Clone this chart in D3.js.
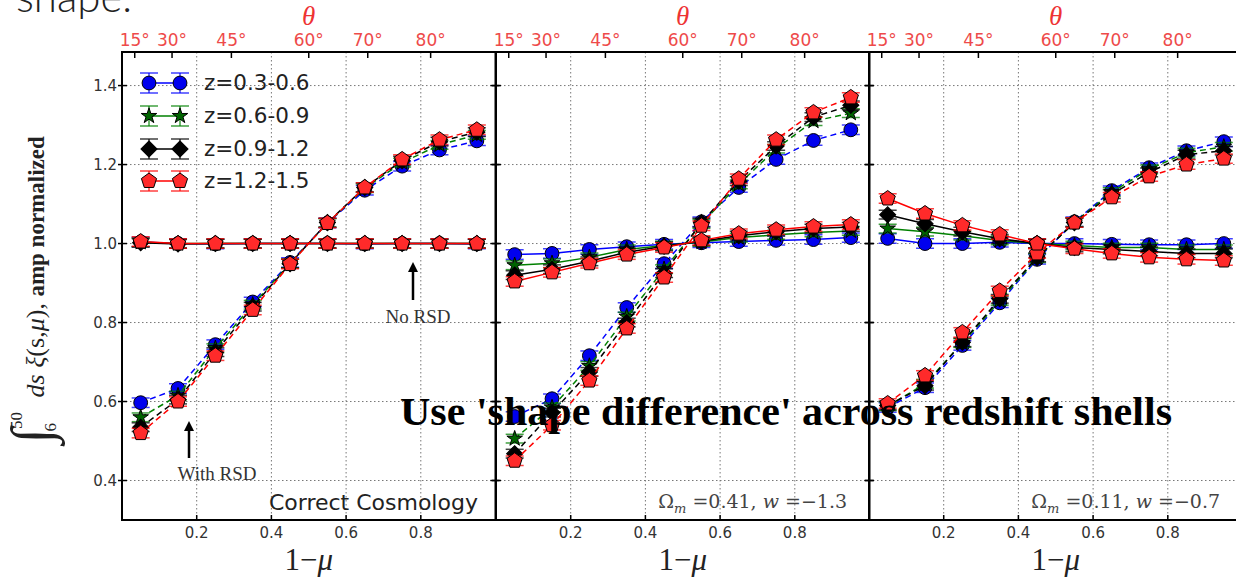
<!DOCTYPE html>
<html>
<head>
<meta charset="utf-8">
<script src="https://cdn.jsdelivr.net/npm/d3@7"></script>
<style>
body { margin: 0; background: #fff; }
svg { display: block; }
</style>
</head>
<body>
<div id="chart-area"></div>
<script>
// bin centres in 1 - mu
const muBins = [0.05, 0.15, 0.25, 0.35, 0.45, 0.55, 0.65, 0.75, 0.85, 0.95];
const zShells = ["z=0.3-0.6", "z=0.6-0.9", "z=0.9-1.2", "z=1.2-1.5"];
const shellErr = [0.012, 0.011, 0.011, 0.012];

const xTicks = [0.2, 0.4, 0.6, 0.8];
const yTicks = [0.4, 0.6, 0.8, 1.0, 1.2, 1.4];
const thetaTicks = [15, 30, 45, 60, 70, 80];

// panel captions
const omegaM = [null, "0.41", "0.11"];
const wValue = [null, "\u22121.3", "\u22120.7"];

// each array: one row per redshift shell (blue, green, black, red)
const correctNoRSD = [
  [1.004, 1.000, 0.999, 1.000, 1.000, 1.000, 0.999, 1.000, 1.000, 0.999],
  [1.003, 1.000, 1.000, 1.000, 1.000, 1.000, 1.000, 1.000, 1.000, 1.000],
  [1.002, 0.999, 1.000, 1.000, 1.000, 1.000, 1.000, 1.000, 1.000, 1.000],
  [1.005, 1.000, 1.000, 1.000, 1.000, 1.000, 1.000, 1.000, 1.000, 1.000]
];
const correctRSD = [
  [0.597, 0.633, 0.744, 0.852, 0.952, 1.052, 1.135, 1.196, 1.237, 1.260],
  [0.560, 0.615, 0.735, 0.845, 0.950, 1.052, 1.140, 1.205, 1.250, 1.275],
  [0.535, 0.605, 0.725, 0.840, 0.949, 1.053, 1.142, 1.210, 1.258, 1.282],
  [0.520, 0.600, 0.716, 0.832, 0.948, 1.052, 1.142, 1.213, 1.263, 1.288]
];
const om041NoRSD = [
  [0.972, 0.975, 0.985, 0.992, 0.998, 1.002, 1.005, 1.008, 1.010, 1.015],
  [0.945, 0.950, 0.965, 0.985, 0.995, 1.004, 1.015, 1.022, 1.028, 1.032],
  [0.920, 0.935, 0.955, 0.978, 0.993, 1.006, 1.020, 1.030, 1.038, 1.042],
  [0.904, 0.927, 0.950, 0.972, 0.990, 1.008, 1.025, 1.035, 1.043, 1.048]
];
const om041RSD = [
  [0.562, 0.607, 0.716, 0.838, 0.949, 1.055, 1.142, 1.213, 1.261, 1.288],
  [0.506, 0.585, 0.690, 0.815, 0.935, 1.050, 1.150, 1.240, 1.310, 1.330],
  [0.468, 0.572, 0.675, 0.800, 0.925, 1.053, 1.158, 1.247, 1.320, 1.350],
  [0.450, 0.540, 0.653, 0.785, 0.914, 1.045, 1.164, 1.263, 1.332, 1.370]
];
const om011NoRSD = [
  [1.013, 1.000, 1.000, 1.003, 1.000, 1.000, 0.998, 0.997, 0.997, 1.000],
  [1.038, 1.030, 1.020, 1.008, 1.000, 0.995, 0.990, 0.990, 0.985, 0.985],
  [1.073, 1.050, 1.030, 1.012, 1.000, 0.990, 0.985, 0.980, 0.975, 0.975],
  [1.114, 1.076, 1.046, 1.023, 1.000, 0.987, 0.975, 0.965, 0.960, 0.957]
];
const om011RSD = [
  [0.585, 0.635, 0.742, 0.850, 0.960, 1.055, 1.134, 1.192, 1.235, 1.258],
  [0.588, 0.645, 0.748, 0.855, 0.963, 1.054, 1.130, 1.188, 1.230, 1.245],
  [0.590, 0.640, 0.750, 0.860, 0.965, 1.053, 1.125, 1.180, 1.225, 1.235],
  [0.595, 0.666, 0.775, 0.880, 0.975, 1.053, 1.117, 1.170, 1.200, 1.215]
];

const panels = [
  { noRSD: correctNoRSD, rsd: correctRSD },
  { noRSD: om041NoRSD, rsd: om041RSD },
  { noRSD: om011NoRSD, rsd: om011RSD }
];

const lineColors = ["#0000ff", "#008000", "#000000", "#ff0000"];
const fillColors = ["#0000ee", "#006400", "#000000", "#ff2a2a"];

const W = 1236, H = 579;
const panelLeft = [122, 496, 869];
const panelW = 373.5;
const plotTop = 52, plotBottom = 520;

let svg = d3.select("#chart-area").append("svg")
  .attr("width", W)
  .attr("height", H)
  .style("font-family", "'DejaVu Sans', sans-serif");

let y = d3.scaleLinear().domain([0.3, 1.485]).range([plotBottom, plotTop]);

// marker shapes
function pentagon(r) {
  let pts = d3.range(5).map(k => {
    let a = -Math.PI / 2 + k * 2 * Math.PI / 5;
    return [r * Math.cos(a), r * Math.sin(a)];
  });
  return "M" + pts.map(p => p.join(",")).join("L") + "Z";
}
const markerPaths = [
  d3.symbol(d3.symbolCircle, 150)(),
  d3.symbol(d3.symbolStar, 75)(),
  d3.symbol(d3.symbolSquare, 130)(),
  pentagon(8)
];
const markerRot = [0, 0, 45, 0];

function drawMarker(g, cx, cy, i) {
  g.append("path")
    .attr("d", markerPaths[i])
    .attr("transform", "translate(" + cx + "," + cy + ") rotate(" + markerRot[i] + ")")
    .attr("fill", fillColors[i])
    .attr("stroke", "#000")
    .attr("stroke-width", 1);
}

function drawErr(g, cx, y1, y2, i, capW) {
  let c = g.append("g")
    .attr("stroke", lineColors[i])
    .attr("stroke-opacity", 0.75)
    .attr("stroke-width", 1.5);
  c.append("line").attr("x1", cx).attr("x2", cx).attr("y1", y1).attr("y2", y2);
  c.append("line").attr("x1", cx - capW).attr("x2", cx + capW).attr("y1", y1).attr("y2", y1);
  c.append("line").attr("x1", cx - capW).attr("x2", cx + capW).attr("y1", y2).attr("y2", y2);
}

// clip for the last panel which runs off the page
svg.append("defs").selectAll("clipPath")
  .data(panels)
  .enter().append("clipPath")
  .attr("id", (d, p) => "clip" + p)
  .append("rect")
  .attr("x", (d, p) => panelLeft[p] - 12)
  .attr("y", plotTop)
  .attr("width", panelW + 24)
  .attr("height", plotBottom - plotTop);

panels.forEach(function(panel, p) {
  let x = d3.scaleLinear().domain([0, 1]).range([panelLeft[p], panelLeft[p] + panelW]);
  let g = svg.append("g");

  // grid
  let grid = g.append("g")
    .attr("stroke", "#777")
    .attr("stroke-width", 1)
    .attr("stroke-dasharray", "1.5,2.5");
  xTicks.forEach(t => {
    grid.append("line").attr("x1", x(t)).attr("x2", x(t)).attr("y1", plotTop).attr("y2", plotBottom);
  });
  yTicks.forEach(t => {
    grid.append("line").attr("x1", x(0)).attr("x2", x(1)).attr("y1", y(t)).attr("y2", y(t));
  });

  // data
  let dg = g.append("g").attr("clip-path", "url(#clip" + p + ")");
  let line = d3.line().x((d, k) => x(muBins[k])).y(d => y(d));
  [0, 1, 2, 3].forEach(function(i) {
    [panel.rsd[i], panel.noRSD[i]].forEach(function(vals, s) {
      dg.append("path")
        .attr("d", line(vals))
        .attr("fill", "none")
        .attr("stroke", lineColors[i])
        .attr("stroke-width", 1.5)
        .attr("stroke-dasharray", s === 0 ? "6,4" : null);
      vals.forEach(function(v, k) {
        drawErr(dg, x(muBins[k]), y(v + shellErr[i]), y(v - shellErr[i]), i, 9);
      });
      vals.forEach(function(v, k) {
        drawMarker(dg, x(muBins[k]), y(v), i);
      });
    });
  });

  // frame
  g.append("rect")
    .attr("x", x(0)).attr("y", plotTop)
    .attr("width", panelW).attr("height", plotBottom - plotTop)
    .attr("fill", "none").attr("stroke", "#000").attr("stroke-width", 2);

  // ticks (inward)
  let tk = g.append("g").attr("stroke", "#000").attr("stroke-width", 1.5);
  yTicks.forEach(t => {
    tk.append("line").attr("x1", x(0) - 4).attr("x2", x(0) + 5).attr("y1", y(t)).attr("y2", y(t));
    tk.append("line").attr("x1", x(1) - 5).attr("x2", x(1) + 4).attr("y1", y(t)).attr("y2", y(t));
  });
  xTicks.forEach(t => {
    tk.append("line").attr("x1", x(t)).attr("x2", x(t)).attr("y1", plotBottom).attr("y2", plotBottom - 5);
  });
  thetaTicks.forEach(t => {
    let u = 1 - Math.cos(t * Math.PI / 180);
    tk.append("line").attr("x1", x(u)).attr("x2", x(u)).attr("y1", plotTop).attr("y2", plotTop + 6);
  });

  // bottom tick labels
  g.selectAll(".xlab")
    .data(xTicks)
    .enter().append("text")
    .attr("x", d => x(d))
    .attr("y", 538)
    .attr("text-anchor", "middle")
    .attr("fill", "#333")
    .style("font-size", "15px")
    .text(d => d3.format(".1f")(d));

  // top theta labels
  g.selectAll(".tlab")
    .data(thetaTicks)
    .enter().append("text")
    .attr("x", d => x(1 - Math.cos(d * Math.PI / 180)))
    .attr("y", 46)
    .attr("text-anchor", "middle")
    .attr("fill", "#ee4a4a")
    .style("font-size", "17px")
    .text(d => d + "\u00b0");

  g.append("text")
    .attr("x", x(0.5))
    .attr("y", 25)
    .attr("text-anchor", "middle")
    .attr("fill", "#ee3333")
    .style("font-family", "'Liberation Serif', serif")
    .style("font-style", "italic")
    .style("font-size", "27px")
    .text("\u03b8");

  // x label
  let xl = g.append("text")
    .attr("x", x(0.5))
    .attr("y", 570)
    .attr("text-anchor", "middle")
    .attr("fill", "#222")
    .style("font-family", "'Liberation Serif', serif")
    .style("font-size", "31px");
  xl.append("tspan").text("1\u2212");
  xl.append("tspan").style("font-style", "italic").text("\u03bc");

  // caption
  if (omegaM[p]) {
    let cap = g.append("text")
      .attr("x", x(0.94))
      .attr("y", 508)
      .attr("text-anchor", "end")
      .attr("fill", "#444")
      .style("font-family", "'DejaVu Serif', serif")
      .style("font-size", "19px");
    cap.append("tspan").text("\u03a9");
    cap.append("tspan").attr("dy", 5).style("font-size", "13px").style("font-style", "italic").text("m");
    cap.append("tspan").attr("dy", -5).text(" =" + omegaM[p] + ", ");
    cap.append("tspan").style("font-style", "italic").text("w");
    cap.append("tspan").text(" =" + wValue[p]);
  } else {
    g.append("text")
      .attr("x", x(0.953))
      .attr("y", 510)
      .attr("text-anchor", "end")
      .attr("fill", "#222")
      .style("font-size", "22px")
      .text("Correct Cosmology");
  }
});

// y tick labels (first panel only)
let y0 = panelLeft[0];
svg.selectAll(".ylab")
  .data(yTicks)
  .enter().append("text")
  .attr("x", y0 - 5)
  .attr("y", d => y(d) + 5)
  .attr("text-anchor", "end")
  .attr("fill", "#333")
  .style("font-size", "15px")
  .text(d => d3.format(".1f")(d));

// legend
let lg = svg.append("g");
const legendY = [83, 116, 149, 181];
zShells.forEach(function(name, i) {
  let ly = legendY[i];
  lg.append("line")
    .attr("x1", 149).attr("x2", 180).attr("y1", ly).attr("y2", ly)
    .attr("stroke", lineColors[i]).attr("stroke-width", 1.5);
  [149, 180].forEach(cx => drawErr(lg, cx, ly - 10, ly + 10, i, 9));
  [149, 180].forEach(cx => drawMarker(lg, cx, ly, i));
  lg.append("text")
    .attr("x", 204).attr("y", ly + 7)
    .attr("fill", "#222")
    .style("font-size", "21.5px")
    .text(name);
});

// annotations
function arrow(xp, y1, y2) {
  svg.append("line")
    .attr("x1", xp).attr("x2", xp).attr("y1", y1).attr("y2", y2 + 8)
    .attr("stroke", "#000").attr("stroke-width", 2.5);
  svg.append("path")
    .attr("d", "M" + (xp - 5) + "," + (y2 + 10) + "L" + xp + "," + y2 + "L" + (xp + 5) + "," + (y2 + 10) + "Z")
    .attr("fill", "#000");
}
arrow(413, 300, 262);
arrow(189, 458, 421);
svg.append("text")
  .attr("x", 418).attr("y", 323)
  .attr("text-anchor", "middle")
  .attr("fill", "#333")
  .style("font-family", "'Liberation Serif', serif")
  .style("font-size", "19px")
  .text("No RSD");
svg.append("text")
  .attr("x", 217).attr("y", 480)
  .attr("text-anchor", "middle")
  .attr("fill", "#333")
  .style("font-family", "'Liberation Serif', serif")
  .style("font-size", "19px")
  .text("With RSD");

// y label, centred on the axis
let yl = svg.append("text")
  .attr("transform", "translate(44,290) rotate(-90)")
  .attr("text-anchor", "middle")
  .attr("fill", "#222")
  .style("font-family", "'Liberation Serif', serif")
  .style("font-size", "23px");
yl.append("tspan").style("font-size", "56px").attr("dy", 6).text("\u222b");
yl.append("tspan").attr("dy", 6).attr("dx", -3).style("font-size", "17px").text("6");
yl.append("tspan").attr("dy", -34).attr("dx", -6).style("font-size", "17px").text("50");
yl.append("tspan").attr("dy", 22).attr("dx", 8).style("font-size", "26px").style("font-style", "italic").text(" ds \u03be");
yl.append("tspan").style("font-size", "26px").text("(s,");
yl.append("tspan").style("font-size", "26px").style("font-style", "italic").text("\u03bc");
yl.append("tspan").style("font-size", "26px").text("), ");
yl.append("tspan").style("font-weight", "bold").text("amp normalized");

// heading fragment at top
svg.append("text")
  .attr("x", 16).attr("y", 12)
  .attr("fill", "#222")
  .style("font-family", "Lato, sans-serif")
  .style("font-weight", 300)
  .style("font-size", "42px")
  .text("shape.");

// overlay title
svg.append("text")
  .attr("x", 400).attr("y", 425)
  .attr("fill", "#000")
  .attr("textLength", 772)
  .attr("lengthAdjust", "spacingAndGlyphs")
  .style("font-family", "'Liberation Serif', 'Times New Roman', serif")
  .style("font-weight", "bold")
  .style("font-size", "39px")
  .text("Use 'shape difference' across redshift shells");
</script>
</body>
</html>
